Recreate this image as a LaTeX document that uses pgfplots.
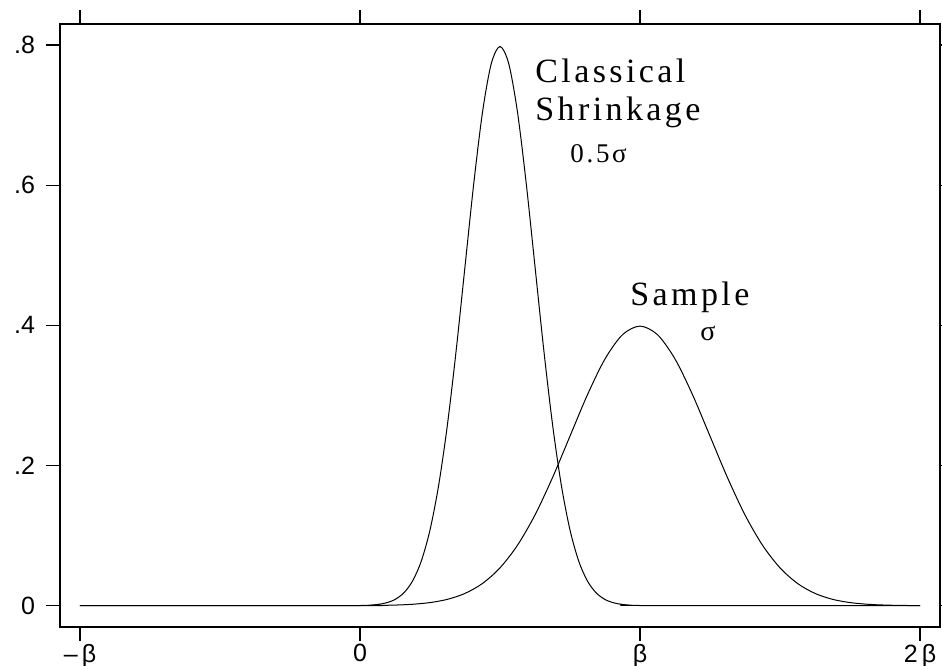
\documentclass[border=0pt]{standalone}
\usepackage{fontspec}
\usepackage{pgfplots}
\pgfplotsset{compat=1.18}
\setmainfont{Liberation Serif}
\newfontfamily\tickfont{Liberation Sans}
\newfontfamily\annfont[LetterSpace=10]{Liberation Serif}
\begin{document}
\begin{tikzpicture}
\begin{axis}[
  scale only axis,
  width=440pt, height=301.5pt,
  xmin=-4.2857, xmax=8.2857,
  ymin=-0.0304, ymax=0.830,
  axis line style={line width=0.7pt},
  tick align=outside,
  major tick length=7pt,
  every tick/.style={black, line width=0.55pt},
  xtick={-4,0,4,8},
  xticklabels={{–\,β},{0},{β},{2\,β}},
  ytick={0,0.2,0.4,0.6,0.8},
  yticklabels={0,.2,.4,.6,.8},
  ticklabel style={font=\tickfont\fontsize{12.5}{14}\selectfont},
  xticklabel style={yshift=1.8pt},
  yticklabel style={xshift=-2pt},
  clip=false,
]
\addplot[black, line width=0.5pt, smooth, tension=0.5] coordinates {
(-4,0) (0,0.00013) (0.25,0.00035) (0.5,0.00087) (0.75,0.00203) (1,0.00443)
(1.25,0.00909) (1.5,0.01753) (1.75,0.03174) (2,0.05399) (2.25,0.08628)
(2.5,0.12952) (2.75,0.18265) (3,0.24197) (3.25,0.30114) (3.5,0.35207)
(3.75,0.38667) (4,0.39894) (4.25,0.38667) (4.5,0.35207) (4.75,0.30114)
(5,0.24197) (5.25,0.18265) (5.5,0.12952) (5.75,0.08628) (6,0.05399)
(6.25,0.03174) (6.5,0.01753) (6.75,0.00909) (7,0.00443) (7.25,0.00203)
(7.5,0.00087) (7.75,0.00035) (8,0.00013)
};
\addplot[black, line width=0.5pt, smooth, tension=0.5] coordinates {
(-4,0) (0,0.00027) (0.125,0.00071) (0.25,0.00175) (0.375,0.00406) (0.5,0.00886)
(0.625,0.01818) (0.75,0.03506) (0.875,0.06348) (1,0.10798) (1.125,0.17256)
(1.25,0.25903) (1.375,0.36529) (1.5,0.48394) (1.625,0.60227) (1.75,0.70413)
(1.875,0.77333) (2,0.79788) (2.125,0.77333) (2.25,0.70413) (2.375,0.60227)
(2.5,0.48394) (2.625,0.36529) (2.75,0.25903) (2.875,0.17256) (3,0.10798)
(3.125,0.06348) (3.25,0.03506) (3.375,0.01818) (3.5,0.00886) (3.625,0.00406)
(3.75,0.00175) (3.875,0.00071) (4,0.00027) (8,0)
};
\node[anchor=base west, inner sep=0pt, font=\annfont\fontsize{17}{20}\selectfont] at (axis cs:2.5,0.746) {Classical};
\node[anchor=base west, inner sep=0pt, font=\annfont\fontsize{17}{20}\selectfont] at (axis cs:2.5,0.693) {Shrinkage};
\node[anchor=base west, inner sep=0pt, font=\annfont\fontsize{13.5}{16}\selectfont] at (axis cs:3.0,0.632) {0.5σ};
\node[anchor=base west, inner sep=0pt, font=\annfont\fontsize{17}{20}\selectfont] at (axis cs:3.857,0.429) {Sample};
\node[anchor=base west, inner sep=0pt, font=\fontsize{14}{16}\selectfont] at (axis cs:4.857,0.379) {σ};
\end{axis}
\pgfresetboundingbox
\path (current axis.south west) ++(-30pt,-19.5pt) coordinate (bbsw);
\path (current axis.north east) ++(1pt,12pt) coordinate (bbne);
\path (bbsw) rectangle (bbne);
\end{tikzpicture}
\end{document}
